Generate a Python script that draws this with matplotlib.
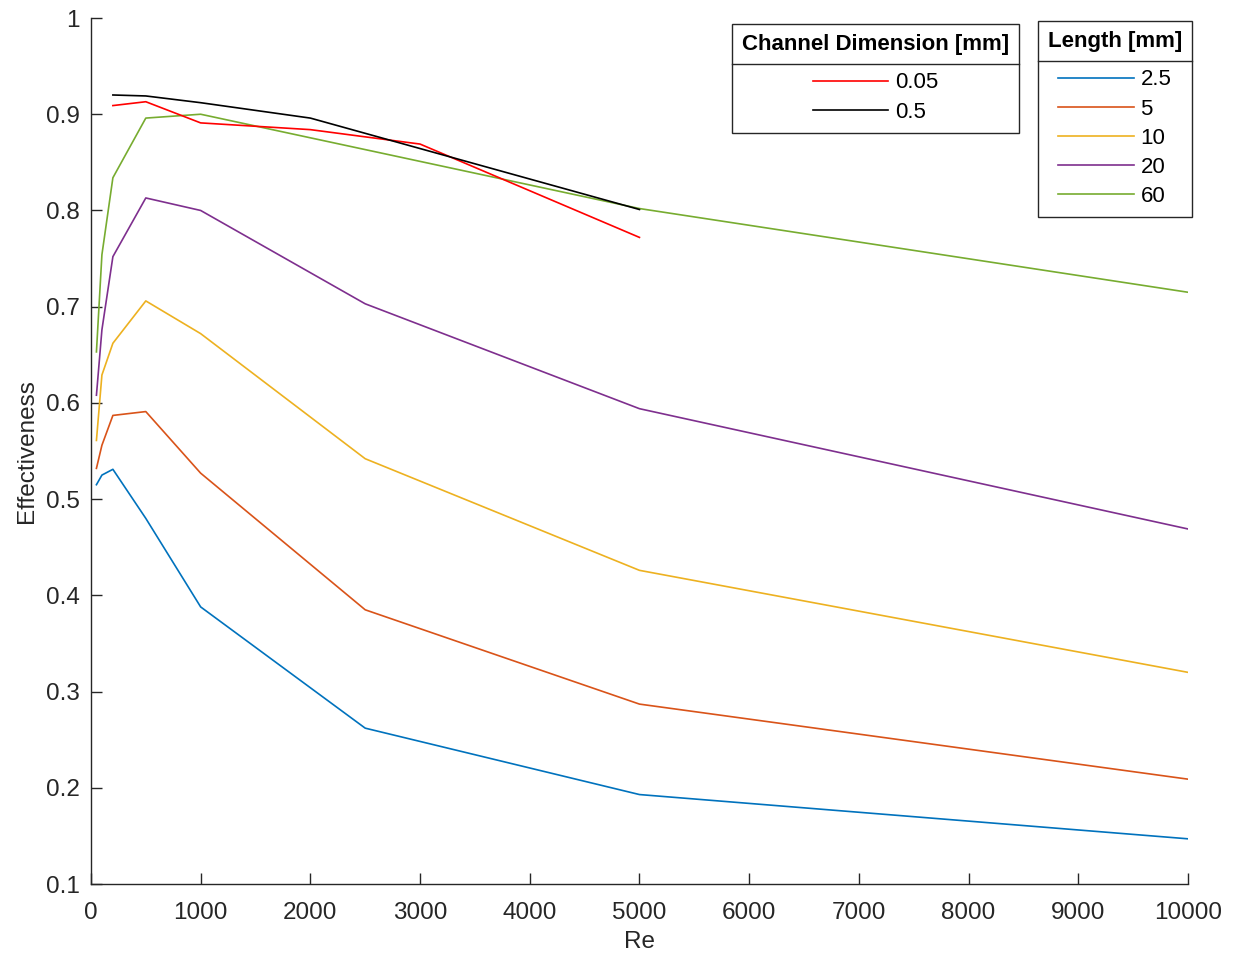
import numpy as np
import matplotlib
matplotlib.use("Agg")
import matplotlib.pyplot as plt
from matplotlib.lines import Line2D

plt.rcParams['font.family'] = ['Liberation Sans', 'DejaVu Sans']

# Length series (Re vs effectiveness)
re_len = [50, 100, 200, 500, 1000, 2500, 5000, 10000]
eff_2p5 = [0.515, 0.525, 0.531, 0.480, 0.388, 0.262, 0.193, 0.147]
eff_5 = [0.532, 0.556, 0.587, 0.591, 0.527, 0.385, 0.287, 0.209]
eff_10 = [0.561, 0.629, 0.662, 0.706, 0.672, 0.542, 0.426, 0.320]
eff_20 = [0.608, 0.676, 0.752, 0.813, 0.800, 0.703, 0.594, 0.469]
re_60 = [50, 100, 200, 500, 1000, 5000, 10000]
eff_60 = [0.653, 0.754, 0.834, 0.896, 0.900, 0.802, 0.715]

# Channel dimension series
re_005 = [200, 500, 1000, 2000, 3000, 5000]
eff_005 = [0.909, 0.913, 0.891, 0.884, 0.869, 0.772]
re_05 = [200, 500, 1000, 2000, 5000]
eff_05 = [0.920, 0.919, 0.912, 0.896, 0.801]

length_labels = ['2.5', '5', '10', '20', '60']
length_colors = ['#0072BD', '#D95319', '#EDB120', '#7E2F8E', '#77AC30']
dim_labels = ['0.05', '0.5']
dim_colors = ['#FF0000', '#000000']

fig = plt.figure(figsize=(12.34, 9.58), dpi=100)
ax = fig.add_axes([0.0737, 0.0772, 0.889, 0.904])

len_x = [re_len, re_len, re_len, re_len, re_60]
len_y = [eff_2p5, eff_5, eff_10, eff_20, eff_60]
len_handles = []
for xs, ys, c, lab in zip(len_x, len_y, length_colors, length_labels):
    h, = ax.plot(xs, ys, color=c, lw=1.2, label=lab)
    len_handles.append(h)

dim_handles = []
for xs, ys, c, lab in zip([re_005, re_05], [eff_005, eff_05], dim_colors, dim_labels):
    h, = ax.plot(xs, ys, color=c, lw=1.2, label=lab)
    dim_handles.append(h)

ax.set_xlim(0, 10000)
ax.set_ylim(0.1, 1)
ax.set_xticks(np.arange(0, 10001, 1000))
ax.set_yticks(np.arange(0.1, 1.01, 0.1))
ax.set_yticklabels(['0.1', '0.2', '0.3', '0.4', '0.5', '0.6', '0.7', '0.8', '0.9', '1'])
for s in ['top', 'right']:
    ax.spines[s].set_visible(False)
for s in ['left', 'bottom']:
    ax.spines[s].set_color('#262626')
    ax.spines[s].set_linewidth(1.0)
ax.tick_params(direction='in', length=8, width=1.0, colors='#262626',
               labelsize=17.5, labelcolor='#262626')
ax.tick_params(axis='x', pad=13)
ax.tick_params(axis='y', pad=8)
ax.set_xlabel('Re', fontsize=17.5, color='#262626', labelpad=5)
ax.set_ylabel('Effectiveness', fontsize=17.5, color='#262626', labelpad=6)

leg_kw = dict(loc='upper right', borderaxespad=0, fancybox=False, framealpha=1,
              edgecolor='#262626', fontsize=16, title_fontproperties={'weight': 'bold', 'size': 16},
              handlelength=3.4, handletextpad=0.3, labelspacing=0.37, alignment='center',
              borderpad=0.45)
leg1 = ax.legend(handles=dim_handles, title='Channel Dimension [mm]',
                 bbox_to_anchor=(0.846, 0.993), **leg_kw)
ax.add_artist(leg1)
leg2 = ax.legend(handles=len_handles, title='Length [mm]',
                 bbox_to_anchor=(1.0036, 0.9965), **leg_kw)
for leg in (leg1, leg2):
    leg.get_frame().set_linewidth(1.0)
    # more room between the title and the entries
    leg._legend_box.sep = 0.37 * 16 + 6.5

# separator line under each legend title
fig.canvas.draw()
inv = fig.transFigure.inverted()
for leg in (leg1, leg2):
    fb = leg.get_frame().get_window_extent()
    tb = leg.get_title().get_window_extent()
    tx = leg.get_texts()[0].get_window_extent()
    ysep = (tb.y0 + tx.y1) / 2
    (x0, y0) = inv.transform((fb.x0, ysep))
    (x1, _) = inv.transform((fb.x1, ysep))
    fig.add_artist(Line2D([x0, x1], [y0, y0], color='#262626', lw=1.0,
                          transform=fig.transFigure, zorder=10))

fig.savefig('out.png', dpi=100)
